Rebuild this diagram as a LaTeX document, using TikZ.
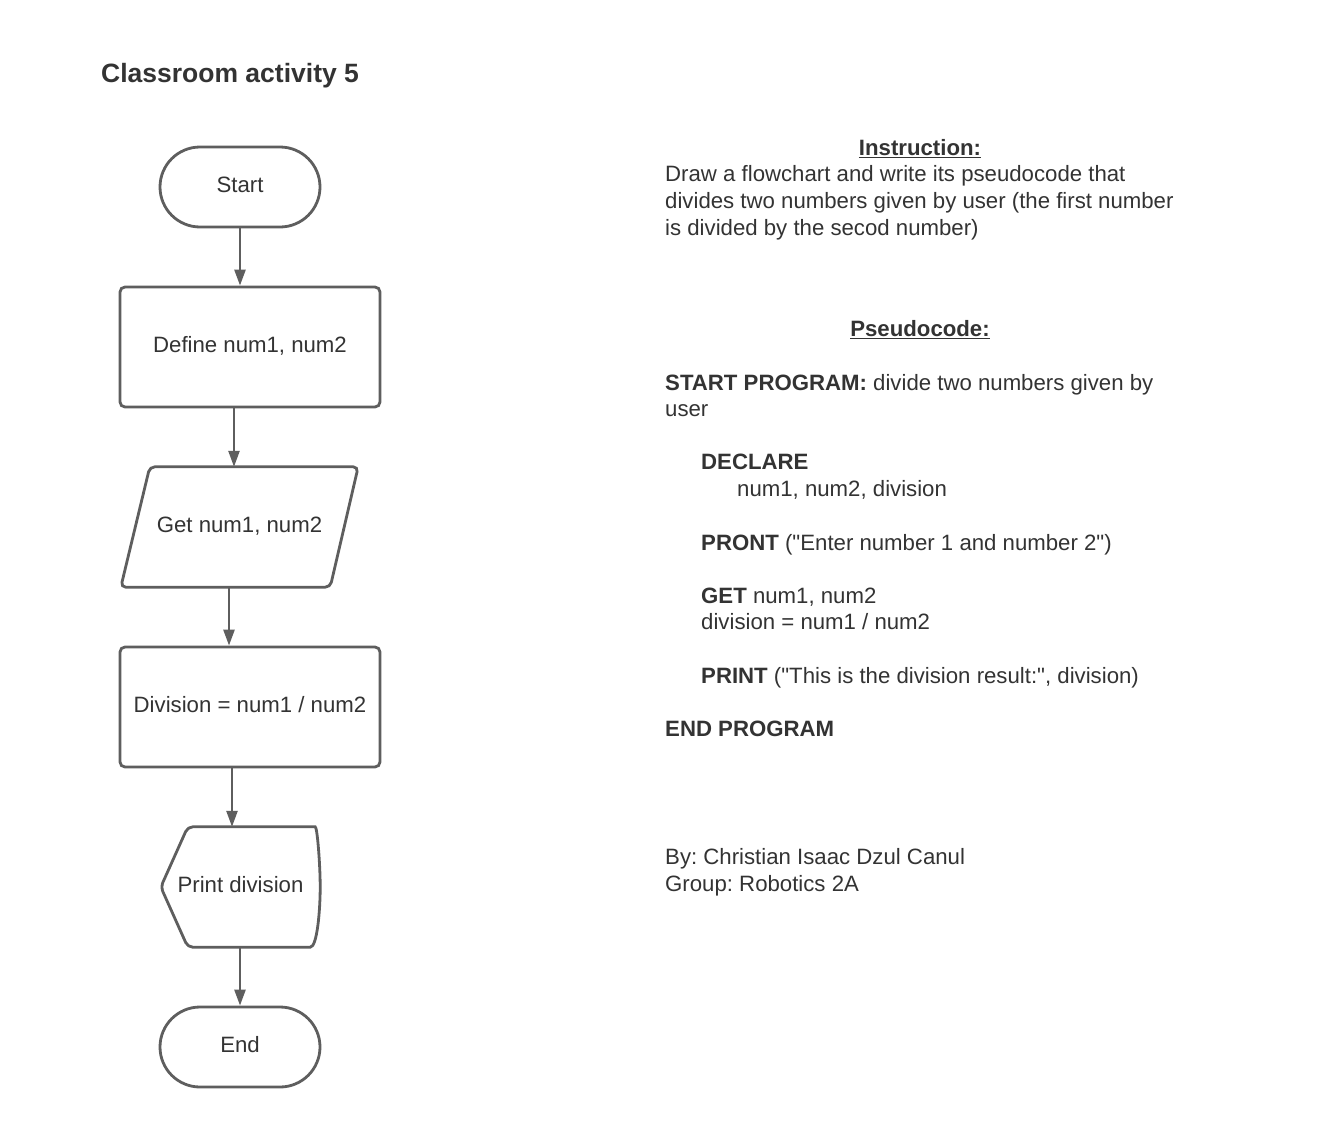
\documentclass[tikz,border=0pt]{standalone}
\usepackage{fontspec}
\setmainfont{Liberation Sans}[Ligatures=TeXOff]
\usetikzlibrary{
    arrows.meta,
    calc,
    positioning,
}
\definecolor{LineGray}{HTML}{5E5E5E}
\definecolor{TextGray}{HTML}{333333}
\tikzset{
    >={Triangle[width=11pt,length=16pt]}
}

\begin{document}
\frenchspacing
\begin{tikzpicture}[x=1pt,y=-1pt,
    txt/.style={font=\fontsize{22.2}{26}\selectfont,text=TextGray,inner sep=0pt,text height=15.8pt,text depth=0pt},
    chart/.style={txt,text depth=5pt},
    terminal/.style={chart,draw=LineGray,line width=2.8pt,rounded corners=40pt,minimum width=160pt,minimum height=80pt},
    process/.style={chart,draw=LineGray,line width=2.8pt,rounded corners=5pt,minimum width=260pt,minimum height=120pt},
    shapebox/.style={chart,minimum height=120pt},
    outline/.style={draw=LineGray,line width=2.8pt,rounded corners=5pt},
    flow/.style={->,draw=LineGray,line width=2.5pt},
    pseudo/.style={txt,anchor=west},
    heading/.style={txt,font=\fontsize{22.2}{26}\selectfont\bfseries},
    ]
    \fill[white] (0,0) rectangle (1320,1127);
    \useasboundingbox (0,0) rectangle (1320,1127);

    \node[txt,anchor=west,font=\fontsize{26.5}{32}\selectfont\bfseries,text height=19pt] (title) at (101,73) {Classroom activity 5};

    % flowchart
    \node[terminal] (start) at (240,187) {Start};
    \node[process] (define) at (250,347) {Define num1, num2};
    \node[shapebox,minimum width=237pt] (get) at (239.5,527) {Get num1, num2};
    \node[process] (division) at (250,707) {Division = num1 / num2};
    \node[shapebox,minimum width=159pt] (print) at (240.5,887) {Print division};
    \node[terminal] (end) at (240,1047) {End};

    \draw[outline] ([xshift=29pt]get.north west) -- (get.north east) -- ([xshift=-28pt]get.south east) -- (get.south west) -- cycle;
    \draw[outline,sharp corners] (print.east)
        .. controls ([yshift=-23pt]print.east) and ([xshift=-3pt]print.south east) .. ([xshift=-10pt]print.south east)
        [rounded corners=5pt] -- ([xshift=27pt]print.south west) -- (print.west)
        -- ([xshift=27pt]print.north west) -- ([xshift=-10pt]print.north east) [sharp corners]
        .. controls ([xshift=-3pt]print.north east) and ([yshift=23pt]print.east) .. cycle;

    \draw[flow] (start.south) -- (start.south |- define.north);
    \draw[flow] ([xshift=-16pt]define.south) -- ([xshift=-16pt]define.south |- get.north);
    \draw[flow] ([xshift=-10.5pt]get.south) -- ([xshift=-10.5pt]get.south |- division.north);
    \draw[flow] ([xshift=-18pt]division.south) -- ([xshift=-18pt]division.south |- print.north);
    \draw[flow] ([xshift=-0.5pt]print.south) -- ([xshift=-0.5pt]print.south |- end.north);

    % instruction and pseudocode
    \node[heading] (instr) at (920,148) {\underline{Instruction:}};
    \node[pseudo] (instr1) at (665,174) {Draw a flowchart and write its pseudocode that};
    \node[pseudo] (instr2) at (665,201) {divides two numbers given by user (the first number};
    \node[pseudo] (instr3) at (665,228) {is divided by the secod number)};

    \node[heading] (pseudohead) at (920,329) {\underline{Pseudocode:}};
    \node[pseudo] (startprog) at (665,383) {\textbf{START PROGRAM:} divide two numbers given by};
    \node[pseudo] (startprog2) at (665,409) {user};
    \node[pseudo] (declare) at (701,462) {\textbf{DECLARE}};
    \node[pseudo] (vars) at (737,489) {num1, num2, division};
    \node[pseudo] (pront) at (701,543) {\textbf{PRONT} ("Enter number 1 and number 2")};
    \node[pseudo] (getline) at (701,596) {\textbf{GET} num1, num2};
    \node[pseudo] (divline) at (701,622) {division = num1 / num2};
    \node[pseudo] (printline) at (701,676) {\textbf{PRINT} ("This is the division result:", division)};
    \node[pseudo] (endprog) at (665,729) {\textbf{END PROGRAM}};

    \node[pseudo] (author) at (665,857) {By: Christian Isaac Dzul Canul};
    \node[pseudo] (group) at (665,884) {Group: Robotics 2A};
\end{tikzpicture}
\end{document}
